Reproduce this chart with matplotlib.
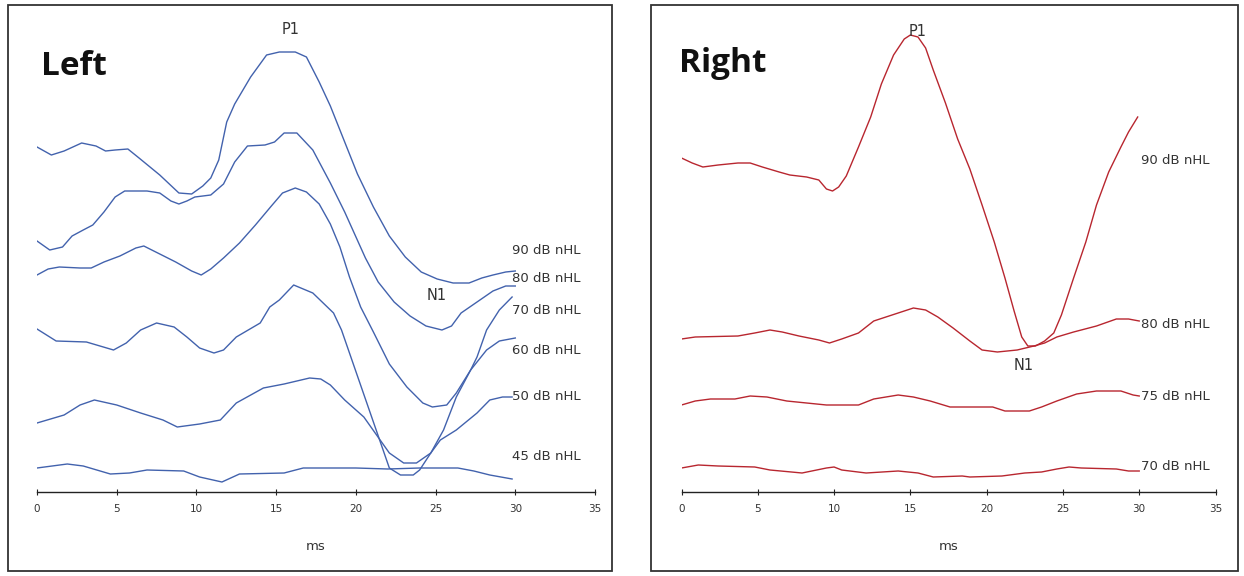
import matplotlib
matplotlib.use("Agg")
import matplotlib.pyplot as plt
from matplotlib.patches import Rectangle

# ---- data: latency (ms) and amplitude (arbitrary units, baseline = x axis) ----
left_90_ms = [0, 0.9, 1.7, 2.8, 3.7, 4.3, 4.9, 5.7, 6.4, 7.7, 8.9, 9.7, 10.4, 10.9, 11.4, 11.9, 12.4, 13.4,
              14.4, 15.2, 16.2, 16.9, 17.7, 18.4, 19.3, 20.1, 21.1, 22.1, 23.1, 24.1, 25.1, 26.1, 27.1, 27.9,
              28.6, 29.4, 30.0]
left_90_amp = [345, 337, 341, 349, 346, 341, 342, 343, 334, 317, 299, 298, 306, 314, 332, 370, 388, 415,
               437, 440, 440, 435, 410, 386, 350, 318, 285, 256, 235, 220, 213, 209, 209, 214,
               217, 220, 221]

left_80_ms = [0, 0.8, 1.6, 2.2, 2.9, 3.5, 4.2, 4.9, 5.5, 6.9, 7.7, 8.4, 8.9, 9.4, 9.9, 10.9, 11.7, 12.4,
              13.2, 14.3, 14.9, 15.5, 16.3, 17.3, 18.4, 19.3, 20.6, 21.4, 22.4, 23.4, 24.4, 25.4, 26.0,
              26.6, 27.6, 28.6, 29.4, 30.0]
left_80_amp = [251, 242, 245, 256, 262, 267, 280, 295, 301, 301, 299, 291, 288, 291, 295, 297, 308, 330,
               346, 347, 350, 359, 359, 342, 309, 280, 234, 210, 190, 176, 166, 162, 166,
               179, 190, 201, 206, 206]

left_70_ms = [0, 0.7, 1.4, 2.7, 3.4, 4.2, 5.2, 6.2, 6.7, 7.7, 8.7, 9.7, 10.3, 10.9, 11.7, 12.7, 13.7, 14.7,
              15.4, 16.2, 16.9, 17.7, 18.4, 19.0, 19.6, 20.3, 21.1, 22.1, 23.2, 24.2, 24.8, 25.7, 26.3,
              27.2, 28.2, 29.0, 30.0]
left_70_amp = [217, 223, 225, 224, 224, 230, 236, 244, 246, 238, 230, 221, 217, 223, 234, 249, 267, 286,
               299, 304, 300, 288, 268, 245, 215, 185, 160, 128, 105, 89, 85, 87, 99,
               122, 142, 151, 154]

left_60_ms = [0, 1.2, 3.1, 4.8, 5.6, 6.5, 7.5, 8.6, 9.4, 10.2, 11.1, 11.7, 12.5, 14.0, 14.6, 15.2, 16.1,
              17.3, 18.6, 19.1, 20.6, 22.1, 22.8, 23.6, 24.0, 24.7, 25.5, 26.3, 27.2, 27.6, 28.2, 29.0, 29.8]
left_60_amp = [163, 151, 150, 142, 149, 162, 169, 165, 155, 144, 139, 142, 155, 169, 185, 192, 207,
               199, 179, 162, 93, 24, 17, 17, 22, 39, 62, 95, 122, 135, 162, 182, 195]

left_50_ms = [0, 1.7, 2.7, 3.6, 5.0, 6.5, 7.9, 8.8, 10.2, 11.5, 12.5, 14.2, 15.5, 17.1, 17.8, 18.4, 19.3,
              20.5, 22.1, 23.0, 23.8, 24.7, 25.3, 26.3, 27.6, 28.4, 29.2, 29.8]
left_50_amp = [69, 77, 87, 92, 87, 79, 72, 65, 68, 72, 89, 104, 108, 114, 113, 107, 92,
               75, 39, 29, 29, 39, 52, 62, 79, 92, 95, 95]

left_45_ms = [0, 1.9, 2.9, 4.6, 5.8, 6.9, 9.2, 10.2, 11.6, 12.7, 15.5, 16.7, 18.4, 20.0, 22.0, 24.0,
              26.4, 27.4, 28.4, 29.8]
left_45_amp = [24, 28, 26, 18, 19, 22, 21, 15, 10, 18, 19, 24, 24, 24, 23, 24, 24, 21, 17, 13]

right_90_ms = [0, 0.7, 1.4, 2.4, 3.7, 4.5, 5.3, 6.4, 7.1, 8.2, 9.0, 9.5, 9.9, 10.3, 10.8, 11.6, 12.4,
               13.1, 13.9, 14.6, 15.0, 15.5, 16.0, 16.5, 17.3, 18.1, 18.9, 19.7, 20.5, 21.2, 21.8, 22.3,
               22.7, 23.2, 23.8, 24.4, 24.9, 25.7, 26.5, 27.2, 28.0, 28.8, 29.3, 29.9]
right_90_amp = [334, 329, 325, 327, 329, 329, 325, 320, 317, 315, 312, 303, 301, 305, 316, 345, 375,
                408, 437, 453, 457, 455, 444, 422, 389, 353, 323, 287, 250, 214, 181, 155,
                146, 146, 151, 159, 177, 214, 250, 287, 320, 345, 360, 375]

right_80_ms = [0, 0.9, 3.7, 4.8, 5.8, 6.6, 7.7, 9.0, 9.7, 10.5, 11.6, 12.6, 14.2, 15.2, 16.0, 16.8, 17.8,
               18.9, 19.7, 20.7, 22.0, 23.1, 23.8, 24.6, 25.7, 27.2, 28.5, 29.3, 30.0]
right_80_amp = [153, 155, 156, 159, 162, 160, 156, 152, 149, 153, 159, 171, 179, 184, 182, 175, 164,
                151, 142, 140, 142, 146, 149, 155, 160, 166, 173, 173, 171]

right_75_ms = [0, 0.9, 1.9, 3.5, 4.5, 5.6, 6.9, 8.2, 9.5, 11.6, 12.6, 14.2, 15.2, 16.3, 17.6, 19.4, 20.4,
               21.2, 22.8, 23.6, 24.6, 25.9, 27.2, 28.8, 29.6, 30.0]
right_75_amp = [87, 91, 93, 93, 96, 95, 91, 89, 87, 87, 93, 97, 95, 91, 85, 85, 85,
                81, 81, 85, 91, 98, 101, 101, 97, 96]

right_70_ms = [0, 1.1, 2.4, 4.8, 5.8, 7.9, 9.5, 10.0, 10.5, 12.1, 14.2, 15.5, 16.5, 18.4, 18.9, 21.0,
               22.5, 23.6, 24.6, 25.4, 26.2, 28.5, 29.3, 30.0]
right_70_amp = [24, 27, 26, 25, 22, 19, 24, 25, 22, 19, 21, 19, 15, 16, 15, 16,
                19, 20, 23, 25, 24, 23, 21, 21]

left_labels = ["90 dB nHL", "80 dB nHL", "70 dB nHL", "60 dB nHL", "50 dB nHL", "45 dB nHL"]
left_label_amp = [241, 214, 182, 142, 96, 36]
right_labels = ["90 dB nHL", "80 dB nHL", "75 dB nHL", "70 dB nHL"]
right_label_amp = [331, 168, 95, 25]

left_series = [(left_90_ms, left_90_amp), (left_80_ms, left_80_amp), (left_70_ms, left_70_amp),
               (left_60_ms, left_60_amp), (left_50_ms, left_50_amp), (left_45_ms, left_45_amp)]
right_series = [(right_90_ms, right_90_amp), (right_80_ms, right_80_amp),
                (right_75_ms, right_75_amp), (right_70_ms, right_70_amp)]

W, H = 1244, 576
fig = plt.figure(figsize=(W / 100, H / 100), dpi=100)


def px_box(x0, y0, x1, y1):
    # pixel box (top-left origin) -> figure fraction [l, b, w, h]
    return [x0 / W, (H - y1) / H, (x1 - x0) / W, (y1 - y0) / H]


# panel frames
for x0, x1 in [(8, 612), (651, 1238)]:
    l, b, w, h = px_box(x0, 5, x1, 571)
    fig.patches.append(Rectangle((l, b), w, h, transform=fig.transFigure, fill=False,
                                 edgecolor="#333333", linewidth=1.3))


def setup(ax):
    ax.set_xlim(0, 35)
    ax.set_ylim(0, 482)
    for s in ["left", "right", "top"]:
        ax.spines[s].set_visible(False)
    ax.spines["bottom"].set_color("#222222")
    ax.spines["bottom"].set_linewidth(1.0)
    ax.set_yticks([])
    ax.set_xticks(range(0, 36, 5))
    ax.tick_params(axis="x", direction="inout", length=4, width=0.8, colors="#222222",
                   labelsize=7.5, labelcolor="#333333", pad=7)
    ax.set_xlabel("ms", fontsize=9.5, color="#333333", labelpad=18)
    ax.patch.set_alpha(0)


axL = fig.add_axes(px_box(37, 10, 595, 492))
axR = fig.add_axes(px_box(681.5, 10, 1215.5, 492))
setup(axL)
setup(axR)

blue = "#4262ad"
red = "#b8262f"

for ms, amp in left_series:
    axL.plot(ms, amp, color=blue, lw=1.0)
for ms, amp in right_series:
    axR.plot(ms, amp, color=red, lw=1.0)

for lab, y in zip(left_labels, left_label_amp):
    axL.text(29.8, y, lab, fontsize=9.5, color="#333333", va="center", ha="left")
for lab, y in zip(right_labels, right_label_amp):
    axR.text(30.1, y, lab, fontsize=9.5, color="#333333", va="center", ha="left")

axL.text(15.9, 462, "P1", fontsize=10.5, color="#333333", ha="center", va="center")
axL.text(25.1, 196, "N1", fontsize=10.5, color="#333333", ha="center", va="center")
axR.text(15.5, 461, "P1", fontsize=10.5, color="#333333", ha="center", va="center")
axR.text(22.4, 127, "N1", fontsize=10.5, color="#333333", ha="center", va="center")

fig.text(41 / W, (H - 75) / H, "Left", fontsize=24, fontweight="bold", family="Open Sans",
         ha="left", va="baseline", color="#111111")
fig.text(679 / W, (H - 72) / H, "Right", fontsize=24, fontweight="bold", family="Open Sans",
         ha="left", va="baseline", color="#111111")

fig.savefig("out.png", dpi=100)
